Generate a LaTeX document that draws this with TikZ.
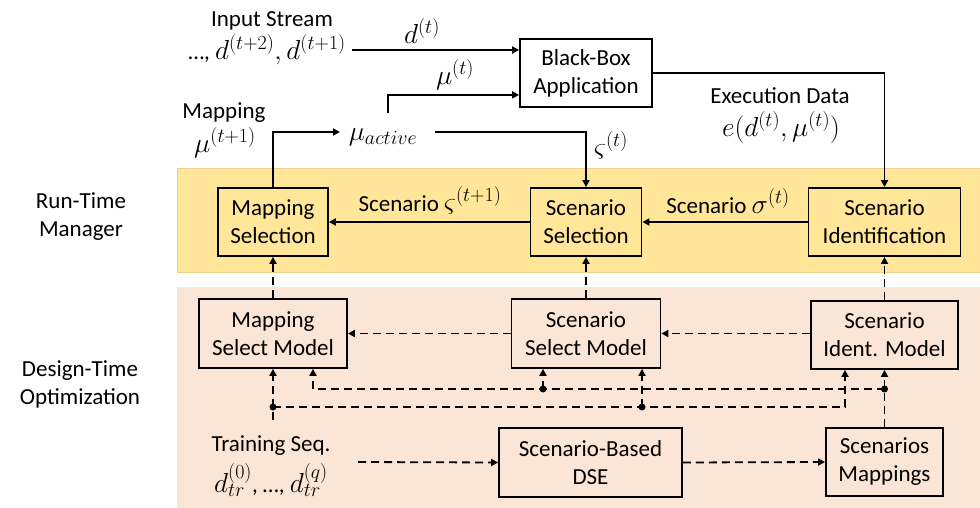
\documentclass[tikz,border=0pt]{standalone}
\usepackage{fix-cm}
\usepackage{fontspec}
\setmainfont{Carlito}
\DeclareMathSizes{23}{27.5}{20}{15}
\usetikzlibrary{arrows.meta}
\definecolor{rtband}{HTML}{FFE699}
\definecolor{rtedge}{HTML}{EBD38A}
\definecolor{dtband}{HTML}{FBE5D6}
\tikzset{
  blk/.style={draw, line width=1.8pt, align=center, inner sep=0pt},
  lbl/.style={align=center, inner sep=0pt},
  flow/.style={line width=1.8pt, -{Triangle[length=7pt,width=7pt]}},
  dflow/.style={flow, dash pattern=on 8pt off 5pt},
  junc/.style={circle, fill, inner sep=0pt, minimum size=7pt},
}
\begin{document}
\begin{tikzpicture}[x=1pt, y=-1pt, font=\fontsize{23}{28}\selectfont]
\useasboundingbox (0,0) rectangle (980,508);

% layer bands
\fill[rtband, draw=rtedge, line width=0.6pt] (177,168) rectangle (981,272);
\fill[dtband] (177,287) rectangle (981,509);

% layer titles
\node[lbl] (rtm) at (81,217) {Run-Time\\Manager};
\node[lbl] (dto) at (80,384) {Design-Time\\Optimization};

% run-time blocks
\node[blk, minimum width=132pt, minimum height=68pt] (bb) at (586,73) {Black-Box\\Application};
\node[blk, minimum width=110pt, minimum height=68pt] (ms) at (273,222) {Mapping\\Selection};
\node[blk, minimum width=111pt, minimum height=68pt] (ss) at (586,222) {Scenario\\Selection};
\node[blk, minimum width=152pt, minimum height=68pt] (si) at (884.5,222) {Scenario\\Identification};

% design-time blocks
\node[blk, minimum width=148pt, minimum height=69pt] (msm) at (273,333.5) {Mapping\\Select Model};
\node[blk, minimum width=149pt, minimum height=69pt] (ssm) at (586,333.5) {Scenario\\Select Model};
\node[blk, minimum width=147pt, minimum height=68pt] (sim) at (884.5,335) {Scenario\\Ident. Model};
\node[blk, minimum width=183pt, minimum height=69pt] (dse) at (590.5,462.5) {Scenario-Based\\DSE};
\node[blk, minimum width=117pt, minimum height=68pt] (smap) at (884.5,462) {Scenarios\\Mappings};

% free texts
\node[lbl] (ist) at (272,21) {Input Stream};
\node[lbl, anchor=east] (inp) at (346,50) {…, $d^{(t+2)}, d^{(t+1)}$};
\node[lbl] (mapt) at (224,113) {Mapping};
\node[lbl] (mapm) at (225,143) {$\mu^{(t+1)}$};
\node[lbl] (mua) at (383,137) {$\mu_{active}$};
\node[lbl] (trn) at (271,446) {Training Seq.};
\node[lbl] (trd) at (271,480) {$d_{tr}^{(0)}$, …, $d_{tr}^{(q)}$};

% connector labels
\node[lbl] (ld) at (422,31) {$d^{(t)}$};
\node[lbl] (lmu) at (455,75) {$\mu^{(t)}$};
\node[lbl] (lsig) at (611,145) {$\varsigma^{(t)}$};
\node[lbl] (lex) at (780,96) {Execution Data};
\node[lbl] (lexd) at (781,127) {$e(d^{(t)},\mu^{(t)})$};
\node[lbl] (lsn) at (430,200) {Scenario $\varsigma^{(t+1)}$};
\node[lbl] (lsi) at (728,201) {Scenario $\sigma^{(t)}$};

% connector anchors
\coordinate (bbinB) at ([yshift=13pt]bb.south west);
\coordinate (instart) at (352,50);
\coordinate (mutop) at (388,113);
\coordinate (muin) at (340,132);
\coordinate (muout) at (435,132);
\coordinate (trtop) at (273,420);
\coordinate (trout) at (358,462);
\coordinate (jA) at (884.5,389);
\coordinate (jA2) at (543,389);
\coordinate (kA) at (313,389);
\coordinate (jB) at (273,407);
\coordinate (jB2) at (642,407);
\coordinate (kB) at (845,407);

% run-time connectors
\draw[flow] (instart) -- (instart -| bb.west);
\draw[flow] (mutop) |- (bbinB);
\draw[flow] (ms.north) |- (muin);
\draw[flow] (muout) -| (ss.north);
\draw[flow] (bb.east) -| (si.north);
\draw[flow] (si.west) -- (ss.east);
\draw[flow] (ss.west) -- (ms.east);

% design-time connectors
\draw[dflow] (msm.north) -- (ms.south);
\draw[dflow] (ssm.north) -- (ss.south);
\draw[dflow] (sim.north) -- (sim.north |- si.south);
\draw[dflow] (sim.west |- ssm.east) -- (ssm.east);
\draw[dflow] (ssm.west) -- (msm.east);
\draw[dflow] (trtop) -- (msm.south);
\draw[dflow] (trout) -- (dse.west);
\draw[dflow] (dse.east) -- (smap.west);
\draw[dflow] (smap.north) -- (sim.south);
\draw[dflow] (jA) -- (kA) -- (kA |- msm.south);
\draw[dflow] (jA2) -- (jA2 |- ssm.south);
\draw[dflow] (jB) -- (kB) -- (kB |- sim.south);
\draw[dflow] (jB2) -- (jB2 |- ssm.south);

% junction dots
\node[junc] (dA) at (jA) {};
\node[junc] (dA2) at (jA2) {};
\node[junc] (dB) at (jB) {};
\node[junc] (dB2) at (jB2) {};
\end{tikzpicture}
\end{document}
